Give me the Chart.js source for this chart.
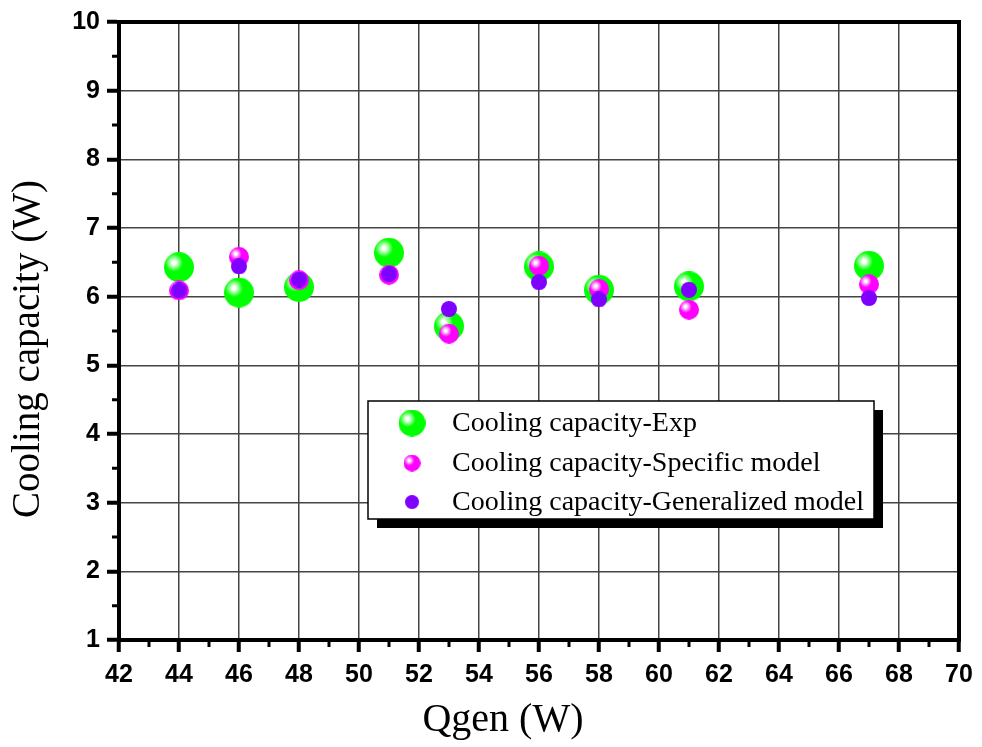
<!DOCTYPE html>
<html>
<head>
<meta charset="utf-8">
<script src="https://cdn.jsdelivr.net/npm/chart.js@4"></script>
<style>
  body { margin: 0; background: #fff; }
  #wrap { width: 982px; height: 747px; }
</style>
</head>
<body>
<div id="wrap"><canvas id="coolingChart" width="982" height="747"></canvas></div>
<script>
// data
const qgen = [44, 46, 48, 51, 53, 56, 58, 61, 67];
const capExp = [6.43, 6.06, 6.14, 6.64, 5.57, 6.44, 6.10, 6.15, 6.45];
const capSpecific = [6.09, 6.58, 6.24, 6.32, 5.46, 6.45, 6.11, 5.81, 6.18];
const capGeneral = [6.09, 6.44, 6.25, 6.33, 5.82, 6.21, 5.96, 6.10, 5.98];
const seriesNames = ['Cooling capacity-Exp', 'Cooling capacity-Specific model', 'Cooling capacity-Generalized model'];

// shaded ball markers
function makeBall(r, color, shine) {
	var c = document.createElement('canvas');
	c.width = c.height = r * 2;
	var g = c.getContext('2d');
	if (shine) {
		var hx = r - r * 0.33, hy = r - r * 0.3;
		var grad = g.createRadialGradient(hx, hy, 0, hx, hy, r * 0.6);
		grad.addColorStop(0, '#ffffff');
		grad.addColorStop(0.2, '#ffffff');
		grad.addColorStop(1, color);
		g.fillStyle = grad;
	} else {
		g.fillStyle = color;
	}
	g.beginPath();
	g.arc(r, r, r, 0, Math.PI * 2);
	g.fill();
	return c;
}

var greenBall = makeBall(15, '#00ff00', true);
var pinkBall = makeBall(10, '#ff00ff', true);
var purpleBall = makeBall(8, '#7f00ff', false);

function toPoints(ys) {
	return qgen.map((x, i) => ({ x: x, y: ys[i] }));
}

// frame, minor ticks, axis titles, legend
const extras = {
	id: 'extras',
	afterDraw(chart) {
		const ctx = chart.ctx;
		const a = chart.chartArea;
		const xs = chart.scales.x, ys = chart.scales.y;
		ctx.save();
		ctx.strokeStyle = '#000';
		ctx.lineWidth = 4;
		ctx.strokeRect(a.left, a.top, a.right - a.left, a.bottom - a.top);

		// minor ticks
		ctx.lineWidth = 3;
		ctx.beginPath();
		for (let v = 43; v < 70; v += 2) {
			const px = xs.getPixelForValue(v);
			ctx.moveTo(px, a.bottom);
			ctx.lineTo(px, a.bottom + 7);
		}
		for (let v = 1.5; v < 10; v += 1) {
			const py = ys.getPixelForValue(v);
			ctx.moveTo(a.left, py);
			ctx.lineTo(a.left - 7, py);
		}
		ctx.stroke();

		// axis titles
		ctx.fillStyle = '#000';
		ctx.font = '40px "Liberation Serif", "Times New Roman", serif';
		ctx.textAlign = 'center';
		ctx.textBaseline = 'alphabetic';
		ctx.fillText('Qgen (W)', 503, 731);
		ctx.save();
		ctx.translate(39, 349);
		ctx.rotate(-Math.PI / 2);
		ctx.font = '39px "Liberation Serif", "Times New Roman", serif';
		ctx.fillText('Cooling capacity (W)', 0, 0);
		ctx.restore();

		// legend box with shadow
		const bx = 368, by = 401, bw = 506, bh = 118;
		ctx.fillStyle = '#000';
		ctx.fillRect(bx + 9, by + 9, bw, bh);
		ctx.fillStyle = '#fff';
		ctx.fillRect(bx, by, bw, bh);
		ctx.lineWidth = 1.5;
		ctx.strokeStyle = '#000';
		ctx.strokeRect(bx, by, bw, bh);

		const marks = [[greenBall, 13.5], [pinkBall, 8.5], [purpleBall, 7]];
		const rows = [423, 463, 502];
		ctx.font = '28px "Liberation Serif", "Times New Roman", serif';
		ctx.textAlign = 'left';
		ctx.textBaseline = 'middle';
		ctx.fillStyle = '#000';
		for (let i = 0; i < 3; i++) {
			const r = marks[i][1];
			ctx.drawImage(marks[i][0], 412 - r, rows[i] - r, r * 2, r * 2);
			ctx.fillText(seriesNames[i], 452, rows[i] + 1);
		}
		ctx.restore();
	}
};

var ctx = document.getElementById('coolingChart').getContext('2d');

var chart = new Chart(ctx, {
	type: 'scatter',
	data: {
		datasets: [
			{ label: seriesNames[0], data: toPoints(capExp), pointStyle: greenBall, order: 3 },
			{ label: seriesNames[1], data: toPoints(capSpecific), pointStyle: pinkBall, order: 2 },
			{ label: seriesNames[2], data: toPoints(capGeneral), pointStyle: purpleBall, order: 1 }
		]
	},
	options: {
		responsive: false,
		animation: false,
		events: [],
		layout: {
			padding: { left: 0, top: 18, right: 23, bottom: 0 }
		},
		plugins: {
			legend: { display: false },
			tooltip: { enabled: false }
		},
		scales: {
			x: {
				type: 'linear',
				min: 42,
				max: 70,
				afterFit: s => { s.height = 107; },
				ticks: {
					stepSize: 2,
					padding: 8,
					color: '#000',
					font: { family: '"Liberation Sans", Arial, sans-serif', size: 25, weight: 'bold' }
				},
				grid: {
					color: '#444',
					lineWidth: 1.5,
					tickLength: 12,
					tickWidth: 4,
					tickColor: '#000'
				},
				border: { display: true, width: 4, color: '#000' }
			},
			y: {
				min: 1,
				max: 10,
				afterFit: s => { s.width = 119; },
				ticks: {
					stepSize: 1,
					padding: 7,
					color: '#000',
					font: { family: '"Liberation Sans", Arial, sans-serif', size: 25, weight: 'bold' }
				},
				grid: {
					color: '#444',
					lineWidth: 1.5,
					tickLength: 12,
					tickWidth: 4,
					tickColor: '#000'
				},
				border: { display: true, width: 4, color: '#000' }
			}
		}
	},
	plugins: [extras]
});
</script>
</body>
</html>
